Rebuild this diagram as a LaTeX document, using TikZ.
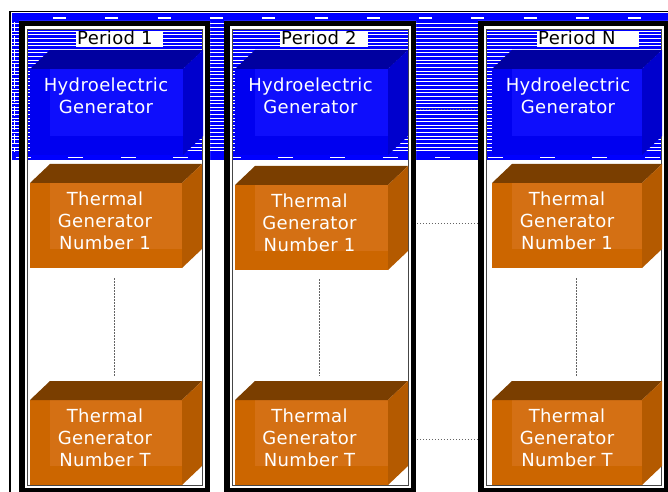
\documentclass[tikz,border=0pt]{standalone}
\usepackage{fontspec}
\setmainfont[LetterSpace=2]{DejaVu Sans}
\usetikzlibrary{calc}
\definecolor{bandblue}{RGB}{0,0,255}
\definecolor{hyFront}{RGB}{0,0,240}
\definecolor{hyBack}{RGB}{14,14,252}
\definecolor{hyTop}{RGB}{0,0,160}
\definecolor{hySide}{RGB}{0,0,205}
\definecolor{thFront}{RGB}{204,102,0}
\definecolor{thBack}{RGB}{212,112,20}
\definecolor{thTop}{RGB}{122,62,0}
\definecolor{thSide}{RGB}{180,90,0}
\definecolor{frameGray}{RGB}{70,70,70}
\definecolor{dotGray}{RGB}{100,100,100}

% #1 name, #2 x, #3 y (front top), #4 width, #5 height, #6 kind (hy/th)
\newcommand\gencube[6]{%
  \node[anchor=north west, inner sep=0, outer sep=0, minimum width=#4bp, minimum height=#5bp, fill=#6Front] (#1) at (#2,#3) {};
  \fill[#6Back] ([xshift=20bp]#1.north west) rectangle ([yshift=19bp]#1.south east);
  \fill[#6Top] (#1.north west) -- ++(20,-19) -- ([shift={(20,-19)}]#1.north east) -- (#1.north east) -- cycle;
  \fill[#6Side] (#1.north east) -- ++(20,-19) -- ([shift={(20,-19)}]#1.south east) -- (#1.south east) -- cycle;
}
% #1 name, #2 outer left x, #3 outer right x
\newcommand\colframe[3]{%
  \fill[white, even odd rule] (#2,21) rectangle (#3,500) (#2+8.5,30) rectangle (#3-7.5,485);
  \node[anchor=north west, draw=black, line width=5.5bp, inner sep=0, outer sep=0,
        minimum width={(#3-#2-5.5)*1bp}, minimum height=467.25bp] (#1) at (#2+2.75,23.75) {};
  \draw[frameGray, line width=1bp] (#2+8.5,30) rectangle (#3-7.5,485);
}

\begin{document}
\begin{tikzpicture}[x=1bp,y=-1bp,
  boxtext/.style={text=white, font=\fontsize{18bp}{22bp}\selectfont, align=center, inner sep=0},
  periodlabel/.style={fill=white, text=black, font=\fontsize{18bp}{20bp}\selectfont,
     inner xsep=1bp, inner ysep=0, text height=12.5bp, text depth=2.5bp, align=left, anchor=west},
  dotline/.style={dotGray, line width=1bp, dash pattern=on 1.5bp off 1.5bp}]
\useasboundingbox (0,0) rectangle (668,492);
\clip (0,0) rectangle (668,492);

% striped blue band
\fill[bandblue] (12,13) rectangle (670,160);
\foreach \i in {0,...,35} \draw[white, line width=1bp] (12,24+\i*3.62) -- (670,24+\i*3.62);
\draw[white, line width=1.8bp, dash pattern=on 13bp off 39.3bp] (53,18) -- (670,18);
\draw[white, line width=1.8bp, dash pattern=on 15bp off 37.4bp] (16,157.5) -- (670,157.5);
\draw[white, line width=1.5bp, dash pattern=on 10bp off 4bp] (14.5,22) -- (14.5,152);

% outer frame line
\draw[line width=1.5bp] (10,500) -- (10,11.5) -- (680,11.5);

% period columns
\colframe{col1}{19}{210}
\colframe{col2}{224}{416}
\colframe{colN}{478}{669}

% period labels
\node[periodlabel, text width=85bp] (p1) at (76,39.5) {Period 1};
\node[periodlabel, text width=86bp] (p2) at (280,39.5) {Period 2};
\node[periodlabel, text width=100bp] (pN) at (537,39.5) {Period N};

% generators
\gencube{h1}{30}{69}{153}{86}{hy}
\gencube{h2}{235}{69}{153}{86}{hy}
\gencube{hN}{492}{69}{150}{86}{hy}
\gencube{a1}{30}{183}{152}{85}{th}
\gencube{a2}{235}{185}{153}{85}{th}
\gencube{aN}{492}{183}{150}{85}{th}
\gencube{b1}{30}{400}{152}{85}{th}
\gencube{b2}{235}{400}{153}{85}{th}
\gencube{bN}{492}{400}{150}{85}{th}

% texts
\node[boxtext] (h1t) at (106,95.5) {Hydroelectric\\Generator};
\node[boxtext] (h2t) at (310.5,95.5) {Hydroelectric\\Generator};
\node[boxtext] (hNt) at (568,95.5) {Hydroelectric\\Generator};
\node[boxtext] (a1t) at (105,220.5) {Thermal\\Generator\\Number 1};
\node[boxtext] (a2t) at (309.5,222.5) {Thermal\\Generator\\Number 1};
\node[boxtext] (aNt) at (567,220.5) {Thermal\\Generator\\Number 1};
\node[boxtext] (b1t) at (105,437.5) {Thermal\\Generator\\Number T};
\node[boxtext] (b2t) at (309.5,437.5) {Thermal\\Generator\\Number T};
\node[boxtext] (bNt) at (567,437.5) {Thermal\\Generator\\Number T};

% vertical dotted connectors
\draw[dotline, shorten <=10bp, shorten >=24bp] ([xshift=8bp]a1.south) -- ([xshift=8bp]b1.north);
\draw[dotline, shorten <=9bp, shorten >=24bp] ([xshift=8bp]a2.south) -- ([xshift=8bp]b2.north);
\draw[dotline, shorten <=10bp, shorten >=24bp] ([xshift=9bp]aN.south) -- ([xshift=9bp]bN.north);

% horizontal dotted connectors
\draw[dotline, shorten <=3.5bp, shorten >=3.5bp] ($(col2.east |- h2.center)+(0,-2)$) -- ($(colN.west |- h2.center)+(0,-2)$);
\draw[dotline, shorten <=3.5bp, shorten >=3.5bp] ($(col2.east |- aN.center)+(0,-2.5)$) -- ($(colN.west |- aN.center)+(0,-2.5)$);
\draw[dotline, shorten <=3.5bp, shorten >=3.5bp] ($(col2.east |- bN.center)+(0,-3)$) -- ($(colN.west |- bN.center)+(0,-3)$);
\end{tikzpicture}
\end{document}
